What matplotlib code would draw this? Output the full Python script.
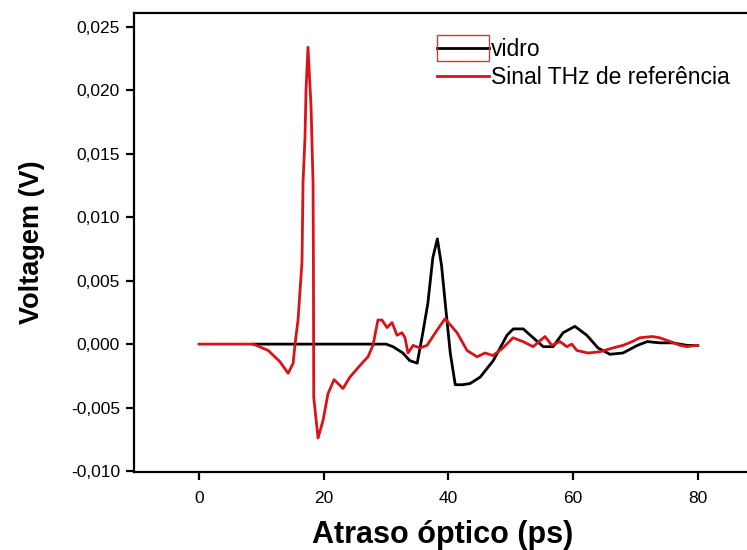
import matplotlib
matplotlib.use("Agg")
import matplotlib.pyplot as plt
from matplotlib.ticker import FuncFormatter, FixedLocator
from matplotlib.patches import Rectangle

plt.rcParams['font.family'] = ['Liberation Sans', 'DejaVu Sans']

# Data
ref_x = [0, 8.7, 11.1, 13.0, 14.3, 15.1, 15.4, 15.88, 16.52, 16.68, 17.0, 17.16, 17.48,
         17.97, 18.29, 18.35, 18.4, 19.09, 19.9, 20.69, 21.66, 23.1, 24.2, 26.15, 27.1,
         27.9, 28.7, 29.35, 30.16, 30.96, 31.76, 32.56, 33.04, 33.52, 34.33, 35.45, 36.57,
         38.18, 39.46, 41.39, 42.99, 44.59, 45.88, 47.16, 48.76, 50.37, 51.97, 53.58, 55.5,
         56.6, 57.9, 59.0, 59.8, 60.6, 62.4, 64.3, 66.4, 68.0, 69.5, 70.7, 72.7, 73.9, 75.6,
         77.2, 78.3, 79.6, 80.0]
ref_y = [0, 0, -0.0005, -0.0014, -0.0023, -0.0015, 0.0, 0.0019, 0.0065, 0.0127, 0.0163,
         0.0200, 0.0234, 0.0187, 0.0127, 0.0064, -0.0042, -0.0074, -0.0060, -0.0039,
         -0.0028, -0.0035, -0.0026, -0.0015, -0.0010, -0.0001, 0.0019, 0.0019, 0.0013,
         0.0017, 0.0007, 0.0009, 0.0005, -0.0007, -0.0001, -0.0003, -0.0001, 0.0011,
         0.0020, 0.0009, -0.0005, -0.0010, -0.0007, -0.0009, -0.0003, 0.0005, 0.0002,
         -0.0002, 0.0006, -0.0001, 0.0002, -0.0002, 0.0, -0.0005, -0.0007, -0.0006,
         -0.0003, -0.0001, 0.0002, 0.0005, 0.0006, 0.0005, 0.0002, -0.0001, -0.0002,
         -0.0001, -0.0001]

vidro_x = [8.7, 12, 20, 25.8, 30.0, 31.1, 32.7, 33.8, 35.0, 35.9, 36.7, 37.5, 38.23, 38.9,
           39.5, 40.3, 41.1, 42.3, 43.5, 45.1, 47.2, 49.4, 50.4, 52.0, 53.6, 55.2, 56.8,
           58.4, 60.3, 62.2, 64.0, 65.9, 68.0, 70.3, 71.9, 73.9, 76.0, 78.3, 79.3, 80.0]
vidro_y = [0, 0, 0, 0, 0, -0.0002, -0.0007, -0.0013, -0.0015, 0.0009, 0.0032, 0.0068,
           0.0083, 0.0062, 0.0032, -0.0007, -0.0032, -0.0032, -0.0031, -0.0026, -0.0013,
           0.0007, 0.0012, 0.0012, 0.0005, -0.0002, -0.0002, 0.0009, 0.0014, 0.0007,
           -0.0003, -0.0008, -0.0007, -0.0001, 0.0002, 0.0001, 0.0001, -0.0001, -0.0001,
           -0.0001]

x_ticks = [0, 20, 40, 60, 80]
y_ticks = [-0.010, -0.005, 0.000, 0.005, 0.010, 0.015, 0.020, 0.025]

W, H = 747, 550
fig = plt.figure(figsize=(W / 100, H / 100), dpi=100)
ax = fig.add_axes([134 / W, (H - 472) / H, (752 - 134) / W, (472 - 13) / H])

ax.plot(vidro_x, vidro_y, color='black', lw=2.0, label='vidro')
ax.plot(ref_x, ref_y, color='#d8141a', lw=2.0, label='Sinal THz de referência')

ax.set_xlim(-10.43, 88.7)
ax.set_ylim(-0.01008, 0.0261)
ax.xaxis.set_major_locator(FixedLocator(x_ticks))
ax.yaxis.set_major_locator(FixedLocator(y_ticks))
ax.yaxis.set_major_formatter(FuncFormatter(lambda v, p: f"{v:.3f}".replace('.', ',').replace('-0,000', '0,000')))
ax.xaxis.set_major_formatter(FuncFormatter(lambda v, p: f"{v:g}"))

for s in ax.spines.values():
    s.set_linewidth(1.6)
ax.tick_params(direction='out', length=6, width=1.6, labelsize=12.5, colors='black', pad=4)
ax.tick_params(axis='x', pad=8)

ax.set_xlabel('Atraso óptico (ps)', fontsize=22, fontweight='bold', labelpad=10)
ax.set_ylabel('Voltagem (V)', fontsize=19.5, fontweight='bold', labelpad=19)

leg = ax.legend(loc='upper left', bbox_to_anchor=(437 / W, 1 - 38 / H),
                bbox_transform=fig.transFigure, frameon=False, fontsize=16.5,
                handlelength=2.27, handletextpad=0.1, labelspacing=0.2,
                borderpad=0, borderaxespad=0)

fig.patches.append(Rectangle((437 / W, 1 - 61 / H), 52 / W, 26 / H,
                             transform=fig.transFigure, fill=False,
                             edgecolor='#c04040', lw=1.0))

fig.savefig('out.png', dpi=100)
